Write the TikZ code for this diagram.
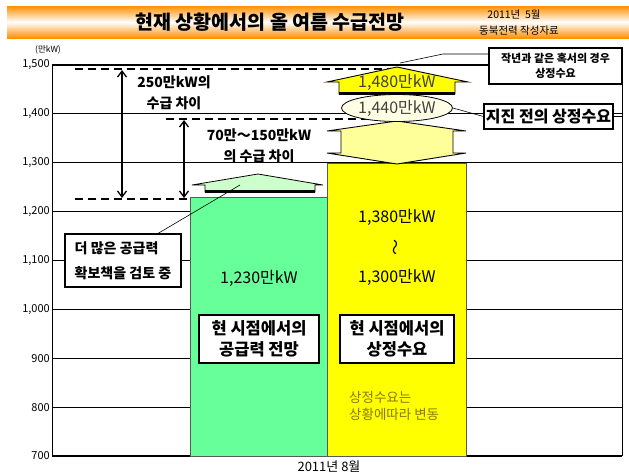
\documentclass[tikz,border=0pt]{standalone}
\usepackage{fontspec}
\setmainfont{Noto Sans CJK KR}
\usetikzlibrary{positioning,shapes.geometric,arrows.meta}
\definecolor{barGreen}{HTML}{66FF99}
\definecolor{barYellow}{HTML}{FFFF00}
\definecolor{paleGreen}{HTML}{CCFFCC}
\definecolor{paleYellow}{HTML}{FFFF99}
\definecolor{ovalYellow}{HTML}{FFFFE6}
\definecolor{hdrOrange}{HTML}{FF9000}
\definecolor{noteOlive}{HTML}{8A7A00}
\tikzset{
  grid line/.style={black, line width=1.2pt},
  gap line/.style={black, line width=2.4pt, dash pattern=on 8pt off 5pt},
  gap arrow/.style={{Straight Barb[length=6pt,width=9pt]}-{Straight Barb[length=6pt,width=9pt]}, line width=1.3pt},
  tick label/.style={anchor=east, inner sep=1pt, font=\fontsize{11}{11}\selectfont},
  gap label/.style={font=\bfseries\fontsize{14}{14}\selectfont, inner sep=1pt},
  bar value/.style={font=\fontsize{16}{16}\selectfont, inner sep=1pt},
  label box/.style={draw, fill=white, line width=1.1pt, align=center, inner sep=2pt},
  callout/.style={black, line width=0.6pt},
}
\begin{document}
\begin{tikzpicture}[x=1pt, y={(0,-1pt)}]
  \useasboundingbox (0,0) rectangle (629,474);

  % header band
  \shade[top color=hdrOrange, bottom color=hdrOrange, middle color=white] (7,6) rectangle (629,38);
  \node (title) at (270,22) {\bfseries\fontsize{19.5}{19.5}\selectfont 현재 상황에서의 올 여름 수급전망};
  \node (hdrdate) at (514,15) {\fontsize{10.5}{10.5}\selectfont 2011년\ \ 5월};
  \node (hdrsrc) at (519,31) {\fontsize{10.5}{10.5}\selectfont 동북전력 작성자료};

  % axis and grid
  \node (unit) at (48,50) {\fontsize{8.5}{8.5}\selectfont (만kW)};
  \foreach \v/\lab in {700/700, 800/800, 900/900, 1000/{1,000}, 1100/{1,100},
                       1200/{1,200}, 1300/{1,300}, 1400/{1,400}, 1500/{1,500}} {
    \pgfmathsetmacro\yy{456-(\v-700)*0.4888}
    \draw[grid line] (52,\yy) -- (622,\yy);
    \node[tick label] at (51,\yy) {\lab};
  }
  \draw[black, line width=1pt] (52,65) -- (52,456);
  \draw[black, line width=1pt] (622,65) -- (622,456);

  % bars
  \draw[gray!70!black, fill=barGreen, line width=0.6pt] (190,456) rectangle (327,197);
  \draw[gray!70!black, fill=barYellow, line width=0.6pt] (327,456) rectangle (466,163);

  % gap lines and arrows
  \coordinate (gapTopL) at (75,69);
  \coordinate (gapTopR) at (393,69);
  \coordinate (gapMidL) at (166,119);
  \coordinate (gapMidR) at (393,119);
  \coordinate (gapLowL) at (75,199);
  \coordinate (gapLowR) at (190,199);
  \draw[gap line] (gapTopL) -- (gapTopR);
  \draw[gap line] (gapMidL) -- (gapMidR);
  \draw[gap line] (gapLowL) -- (gapLowR);
  \draw[gap arrow] (122,70) -- (122,198);
  \draw[gap arrow] (184,120) -- (184,198);
  \node[gap label] (gap250a) at (174,82) {250만kW의};
  \node[gap label] (gap250b) at (174,103) {수급 차이};
  \node[gap label] (gap70a) at (259,135) {70만～150만kW};
  \node[gap label] (gap70b) at (259,156) {의 수급 차이};

  % green supply arrow
  \draw[black, fill=paleGreen, line width=0.8pt]
    (192,185) -- (258,174) -- (323,185) -- (315,185) -- (315,192)
    -- (205,192) -- (205,185) -- cycle;
  \draw[black, line width=2.5pt] (205,191.5) -- (315,191.5);
  \coordinate (supplyTip) at (240,185);

  % yellow demand arrows
  \draw[black, fill=paleYellow, line width=0.9pt]
    (327,131) -- (397,121) -- (466,131) -- (453,131) -- (453,153) -- (466,153)
    -- (397,164) -- (327,153) -- (341,153) -- (341,131) -- cycle;
  \draw[black, fill=barYellow, line width=0.9pt]
    (327,82) -- (397,67) -- (468,82) -- (455,82) -- (455,94)
    -- (339,94) -- (339,82) -- cycle;
  \draw[black, line width=3pt] (339,93) -- (455,93);
  \node[bar value, text=black!75] (peak1480) at (397,82) {1,480만kW};
  \node[draw, ellipse, fill=ovalYellow, line width=0.8pt, minimum width=111pt,
        minimum height=27pt, inner sep=0pt, font=\fontsize{16}{16}\selectfont,
        text=black!75] (pre1440) at (397,108) {1,440만kW};

  % callout boxes
  \node[label box, font=\bfseries\fontsize{11}{15}\selectfont, minimum width=133pt,
        minimum height=36pt, inner sep=1pt] (hotBox) at (555.5,66) {작년과 같은 혹서의 경우\\상정수요};
  \node[label box, font=\bfseries\fontsize{16}{16}\selectfont, minimum width=129pt,
        minimum height=25pt, inner sep=1pt] (quakeBox) at (548.5,116.5) {지진 전의 상정수요};
  \node[label box, font=\bfseries\fontsize{14}{25}\selectfont, align=left,
        minimum width=116pt, minimum height=53pt] (moreBox) at (123,260.5)
        {더 많은 공급력\\확보책을 검토 중};
  \draw[callout] (hotBox.west |- 0,54) -- (443,54) -- (400,63);
  \draw[callout] (pre1440.east) -- (quakeBox.west);
  \draw[callout] (quakeBox.east) -- (622,116.5);
  \draw[callout] (supplyTip) -- (moreBox.north -| 158,0);

  % bar labels
  \node[bar value] (supply1230) at (259,278) {1,230만kW};
  \node[bar value] (demand1380) at (397,217) {1,380만kW};
  \node[bar value, rotate=90] (demandRange) at (397,247) {～};
  \node[bar value] (demand1300) at (397,277) {1,300만kW};
  \node[label box, font=\bfseries\fontsize{16.5}{21}\selectfont, minimum width=120pt,
        minimum height=48pt] (supplyBox) at (259,339) {현 시점에서의\\공급력 전망};
  \node[label box, font=\bfseries\fontsize{16.5}{21}\selectfont, minimum width=114pt,
        minimum height=48pt] (demandBox) at (397,339) {현 시점에서의\\상정수요};
  \node[align=left, text=noteOlive, font=\fontsize{13.5}{17}\selectfont, anchor=west,
        inner sep=0pt] (demandNote) at (349,405.5) {상정수요는\\상황에따라 변동};
  \node[font=\fontsize{13}{13}\selectfont] (month) at (329,467) {2011년\ 8월};
\end{tikzpicture}
\end{document}
